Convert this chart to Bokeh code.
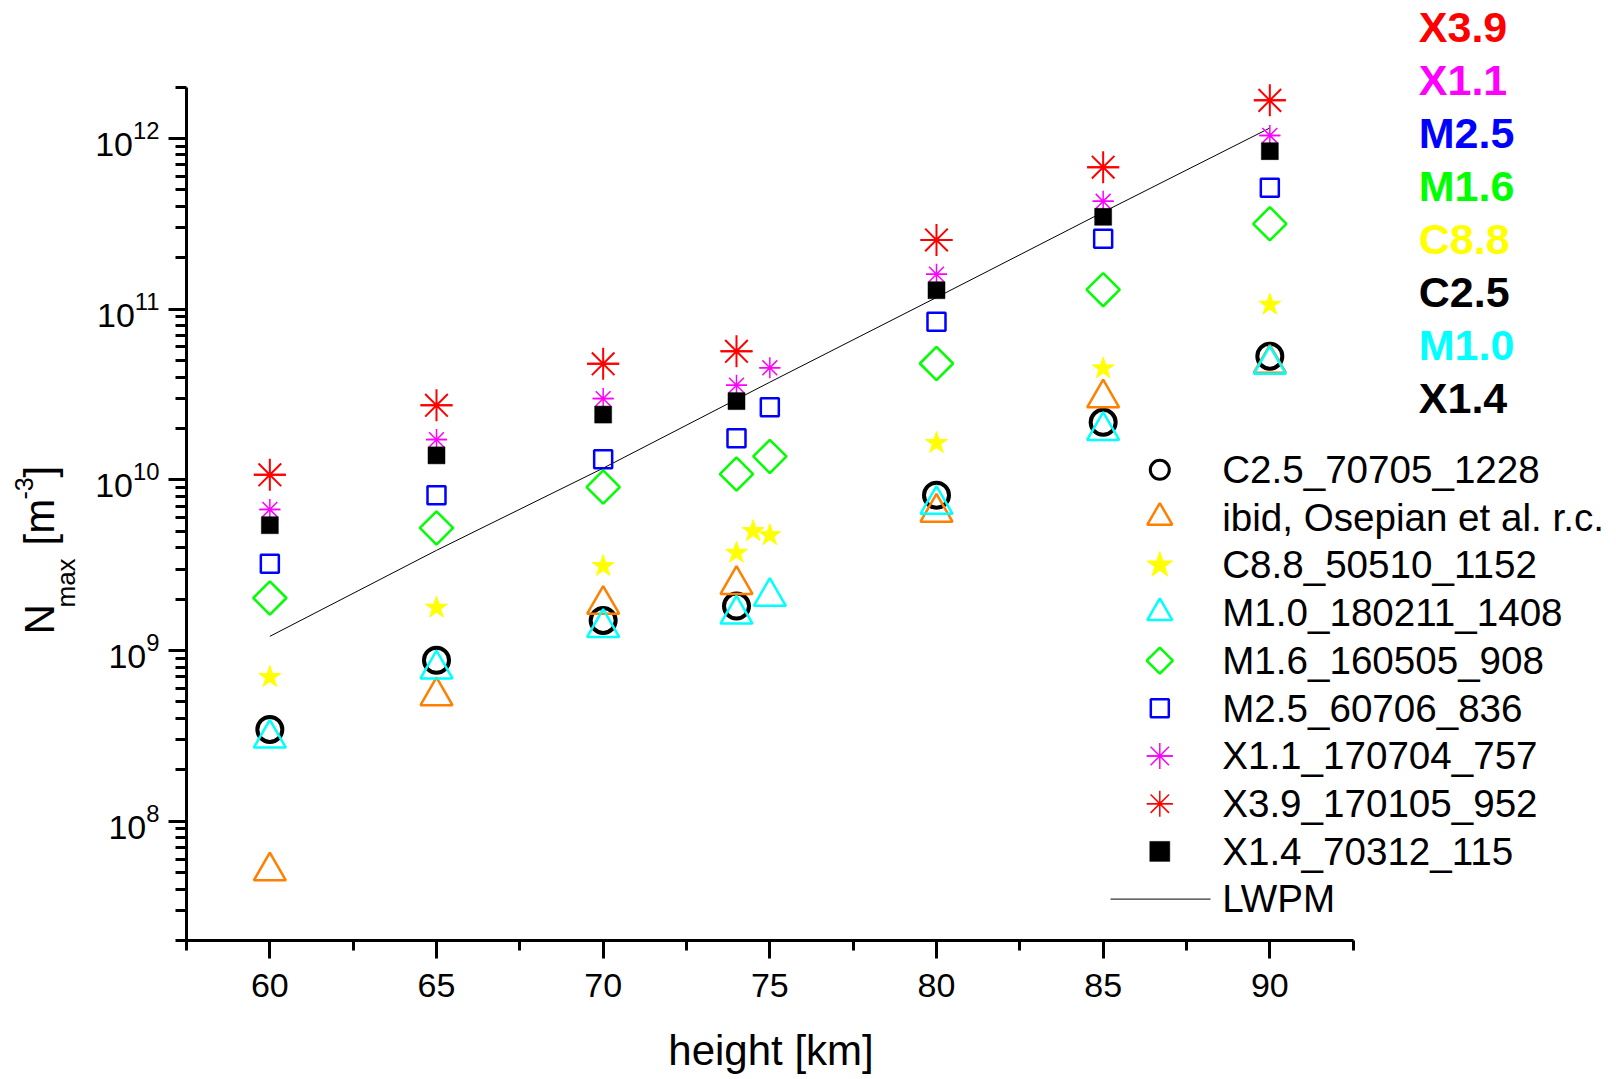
import numpy as np
from bokeh.plotting import figure
from bokeh.models import (Range1d, FixedTicker, LogTickFormatter, Label,
                          LinearAxis, LogAxis)
from bokeh.embed import file_html
from bokeh.resources import INLINE

# ---- maximum electron density N_max [m^-3] versus height [km], per flare ----
c25_h = [60, 65, 70, 74, 80, 85, 90]
c25_n = [3.45e8, 8.77e8, 1.50e9, 1.82e9, 8.13e9, 2.17e10, 5.3e10]

ibid_h = [60, 65, 70, 74, 80, 85, 90]
ibid_n = [5.1e7, 5.42e8, 1.86e9, 2.43e9, 6.44e9, 3.01e10, 4.8e10]

c88_h = [60, 65, 70, 74, 74.5, 75, 80, 85, 90]
c88_n = [6.98e8, 1.78e9, 3.12e9, 3.73e9, 5.0e9, 4.73e9, 1.64e10, 4.49e10, 1.06e11]

m10_h = [60, 65, 70, 74, 75, 80, 85, 90]
m10_n = [3.06e8, 7.77e8, 1.36e9, 1.63e9, 2.07e9, 7.16e9, 1.94e10, 4.73e10]

m16_h = [60, 65, 70, 74, 75, 80, 85, 90]
m16_n = [2.03e9, 5.22e9, 9.06e9, 1.08e10, 1.37e10, 4.8e10, 1.30e11, 3.16e11]

m25_h = [60, 65, 70, 74, 75, 80, 85, 90]
m25_n = [3.22e9, 8.13e9, 1.32e10, 1.75e10, 2.66e10, 8.42e10, 2.58e11, 5.13e11]

x11_h = [60, 65, 70, 74, 75, 80, 85, 90]
x11_n = [6.7e9, 1.72e10, 2.99e10, 3.58e10, 4.53e10, 1.6e11, 4.28e11, 1.04e12]

x39_h = [60, 65, 70, 74, 80, 85, 90]
x39_n = [1.07e10, 2.73e10, 4.78e10, 5.66e10, 2.54e11, 6.78e11, 1.67e12]

x14_h = [60, 65, 70, 74, 80, 85, 90]
x14_n = [5.42e9, 1.39e10, 2.41e10, 2.89e10, 1.29e11, 3.47e11, 8.42e11]

lwpm_h = [60, 65, 70, 75, 80, 85, 90]
lwpm_n = [1.21e9, 3.86e9, 1.17e10, 3.73e10, 1.17e11, 3.7e11, 1.15e12]

series_names = ["C2.5_70705_1228", "ibid, Osepian et al. r.c.", "C8.8_50510_1152",
                "M1.0_180211_1408", "M1.6_160505_908", "M2.5_60706_836",
                "X1.1_170704_757", "X3.9_170105_952", "X1.4_70312_115", "LWPM"]
flare_classes = ["X3.9", "X1.1", "M2.5", "M1.6", "C8.8", "C2.5", "M1.0", "X1.4"]

x_ticks = [60, 65, 70, 75, 80, 85, 90]
x_minor = [57.5, 62.5, 67.5, 72.5, 77.5, 82.5, 87.5, 92.5]
x_bounds = (57.5, 92.5)
y_ticks = [1e8, 1e9, 1e10, 1e11, 1e12]
y_minor = [m * 10.0 ** e for e in range(7, 13) for m in range(2, 10)
           if 2e7 <= m * 10.0 ** e <= 2e12]
y_bounds = (2e7, 2e12)

# ---- colours / fonts ----
ORANGE = "#FF7F00"
YELLOW = "#FFFF00"
CYAN = "#00FFFF"
GREEN = "#00FF00"
BLUE = "#0000FF"
MAGENTA = "#FF00FF"
RED = "#FF0000"
FONT = "Liberation Sans"

# ---- canvas geometry: the frame fills the page, axes sit at fixed spots ----
W, H = 1616, 1079
AX_LEFT_PX, AX_BOTTOM_PX = 186, 940     # where the two axis lines run
PX_PER_KM = 33.333
PX_PER_DEC = 170.7
LOG_AT_BOTTOM = np.log10(y_bounds[0])
BASELINE_FIX = 0.37                      # label baseline correction, in em


def sx(px):
    """canvas x pixel -> height value"""
    return x_bounds[0] + (px - AX_LEFT_PX) / PX_PER_KM


def sy(py):
    """canvas y pixel (from top) -> density value"""
    return 10 ** (LOG_AT_BOTTOM + (AX_BOTTOM_PX - py) / PX_PER_DEC)


def lab(px, py, text, size, rotated=False, **kw):
    """text placed by the canvas pixel of its baseline start (y from top)"""
    fs = float(size.rstrip("px"))
    if rotated:
        px -= BASELINE_FIX * fs
        kw["angle"] = np.pi / 2
    else:
        py -= BASELINE_FIX * fs
    opts = dict(text_font=FONT, text_color="black", text_align="left",
                text_baseline="alphabetic")
    opts.update(kw)
    p.add_layout(Label(x=px, y=H - py, x_units="screen", y_units="screen",
                       text=text, text_font_size=size, **opts))


p = figure(width=W, height=H,
           x_range=Range1d(sx(0), sx(W)),
           y_range=Range1d(sy(H), sy(0)),
           y_axis_type="log", x_axis_location=None, y_axis_location=None,
           output_backend="svg", toolbar_location=None, min_border=0)
p.outline_line_color = None
p.grid.visible = False
p.background_fill_color = "white"
p.border_fill_color = "white"

xa = LinearAxis(fixed_location=y_bounds[0], bounds=x_bounds,
                ticker=FixedTicker(ticks=x_ticks, minor_ticks=x_minor))
xa.minor_tick_out = 10
xa.major_label_standoff = 15
ya = LogAxis(fixed_location=x_bounds[0], bounds=y_bounds,
             ticker=FixedTicker(ticks=y_ticks, minor_ticks=y_minor),
             formatter=LogTickFormatter())
ya.minor_tick_out = 11
ya.major_label_standoff = 9

for ax in (xa, ya):
    ax.axis_line_width = 3
    ax.axis_line_color = "black"
    ax.major_tick_out = 18
    ax.major_tick_in = 0
    ax.minor_tick_in = 0
    ax.major_tick_line_width = 3
    ax.minor_tick_line_width = 3
    ax.major_tick_line_color = "black"
    ax.minor_tick_line_color = "black"
    ax.major_label_text_font = FONT
    ax.major_label_text_font_size = "34px"
    ax.major_label_text_color = "black"
p.add_layout(xa, "below")
p.add_layout(ya, "left")

# ---- model curve ----
p.line(lwpm_h, lwpm_n, line_color="black", line_width=1)

# ---- measurements ----
p.scatter(c25_h, c25_n, marker="circle", size=25, fill_color=None,
          line_color="black", line_width=4)
p.scatter(ibid_h, ibid_n, marker="triangle", size=32, fill_color=None,
          line_color=ORANGE, line_width=2.5)
p.scatter(c88_h, c88_n, marker="star", size=23, fill_color=YELLOW,
          line_color=YELLOW, line_width=1)
p.scatter(m10_h, m10_n, marker="triangle", size=32, fill_color=None,
          line_color=CYAN, line_width=2.5)
p.scatter(m16_h, m16_n, marker="square", angle=np.pi / 4, size=23.5,
          fill_color=None, line_color=GREEN, line_width=2.5)
p.scatter(m25_h, m25_n, marker="square", size=18, fill_color=None,
          line_color=BLUE, line_width=2.5)
for mk in ("asterisk", "dash"):
    p.scatter(x11_h, x11_n, marker=mk, size=21, line_color=MAGENTA, line_width=1.5)
for mk in ("asterisk", "dash"):
    p.scatter(x39_h, x39_n, marker=mk, size=32, line_color=RED, line_width=2)
p.scatter(x14_h, x14_n, marker="square", size=17, fill_color="black",
          line_color="black", line_width=0.5)

# ---- legend ----
LEG_MX, LEG_TX = 1159.3, 1221.7
LEG_BASE0, LEG_STEP = 483.3, 47.7
leg_styles = [
    [dict(marker="circle", size=19, fill_color=None, line_color="black", line_width=3)],
    [dict(marker="triangle", size=25, fill_color=None, line_color=ORANGE, line_width=2.5)],
    [dict(marker="star", size=27, fill_color=YELLOW, line_color=YELLOW, line_width=1)],
    [dict(marker="triangle", size=25, fill_color=None, line_color=CYAN, line_width=2.5)],
    [dict(marker="square", angle=np.pi / 4, size=18.5, fill_color=None, line_color=GREEN, line_width=2.5)],
    [dict(marker="square", size=18, fill_color=None, line_color=BLUE, line_width=2.5)],
    [dict(marker="asterisk", size=26, line_color=MAGENTA, line_width=1.5),
     dict(marker="dash", size=26, line_color=MAGENTA, line_width=1.5)],
    [dict(marker="asterisk", size=26, line_color=RED, line_width=1.5),
     dict(marker="dash", size=26, line_color=RED, line_width=1.5)],
    [dict(marker="square", size=20, fill_color="black", line_color="black", line_width=0.5)],
]
for i, name in enumerate(series_names):
    base = LEG_BASE0 + i * LEG_STEP
    cy = base - 14
    if i < len(leg_styles):
        for st in leg_styles[i]:
            p.scatter([sx(LEG_MX)], [sy(cy)], **st)
    else:
        p.line([sx(1110), sx(1210)], [sy(cy), sy(cy)], line_color="black", line_width=1)
    lab(LEG_TX, base, name, "38.6px")

# ---- flare class list, top right ----
class_colors = [RED, MAGENTA, BLUE, GREEN, YELLOW, "black", CYAN, "black"]
for i, (txt, col) in enumerate(zip(flare_classes, class_colors)):
    lab(1418.3, 42.7 + i * 52.9, txt, "43px", text_font_style="bold", text_color=col)

# ---- axis titles ----
lab(770.5, 1066, "height [km]", "42px", text_align="center")

ylab_parts = [  # (text, baseline x, start y, font size)
    ("N", 55, 634, "42px"),
    ("max", 75, 607, "26px"),
    ("[m", 55, 545, "42px"),
    ("-3", 33, 499, "25px"),
    ("]", 55, 477, "42px"),
]
for txt, bx, by, fs in ylab_parts:
    lab(bx, by, txt, fs, rotated=True)

open("out.html", "w").write(file_html(p, INLINE))
